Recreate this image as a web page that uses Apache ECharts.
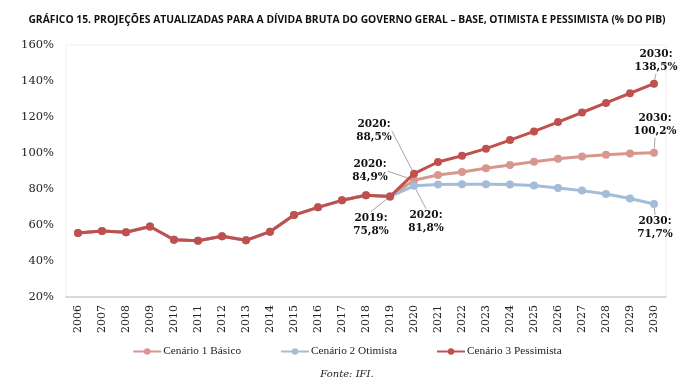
<!DOCTYPE html>
<html><head><meta charset="utf-8">
<script src="https://cdn.jsdelivr.net/npm/echarts@6/dist/echarts.min.js"></script>
<style>html,body{margin:0;padding:0;background:#fff}#c{width:694px;height:387px}</style>
</head><body><div id="c"></div>
<script>
var years = ['2006','2007','2008','2009','2010','2011','2012','2013','2014','2015','2016','2017','2018','2019','2020','2021','2022','2023','2024','2025','2026','2027','2028','2029','2030'];
var historico = [55.5,56.7,56.0,59.2,51.8,51.3,53.8,51.5,56.3,65.5,69.8,73.7,76.5,75.8];
var basico = [84.9,87.8,89.5,91.5,93.3,95.2,96.8,98.1,99.0,99.7,100.2];
var otimista = [81.8,82.5,82.7,82.7,82.5,81.9,80.6,79.1,77.2,74.7,71.7];
var pessimista = [88.5,95.0,98.5,102.4,107.2,112.0,117.2,122.5,127.8,133.2,138.5];
var yTicks = [20,40,60,80,100,120,140,160];
var names = ['Cenário 1 Básico','Cenário 2 Otimista','Cenário 3 Pessimista'];
var colors = ['#D9968F','#A3BCD8','#C0504D'];

// annotations: [seriesIndex, yearLabel, text, position, dx, dy]
var notes = [
  [2,'2030','2030:\n138,5%','top',2,-1],
  [0,'2030','2030:\n100,2%','top',1,-6],
  [1,'2030','2030:\n71,7%','bottom',1,2],
  [2,'2020','2020:\n88,5%','top',-40,-21],
  [0,'2020','2020:\n84,9%','top',-44,13],
  [1,'2020','2020:\n81,8%','bottom',12,14],
  [2,'2019','2019:\n75,8%','bottom',-19,6]
];

function build(si, proj){
  var vals = historico.concat(proj);
  return vals.map(function(v,i){
    var item = {value:v};
    notes.forEach(function(n){
      if(n[0]===si && years[i]===n[1]){
        item.label = {show:true, formatter:n[2], position:n[3]};
        item.labelLine = {show:true};
      }
    });
    return item;
  });
}
function layoutFor(si){
  return function(p){
    var yr = years[p.dataIndex];
    for(var k=0;k<notes.length;k++){
      var n=notes[k];
      if(n[0]===si && n[1]===yr) return {dx:n[4], dy:n[5]};
    }
    return {};
  };
}
var projs=[basico,otimista,pessimista];
var series = projs.map(function(pr,si){
  return {
    name:names[si], type:'line', data:build(si,pr), z:2+si,
    symbol:'circle', symbolSize:8, lineStyle:{width:3,color:colors[si]},
    itemStyle:{color:colors[si]},
    label:{show:false, color:'#111', fontFamily:'DejaVu Serif', fontWeight:'bold', fontSize:10.5, lineHeight:13, align:'center'},
    labelLine:{lineStyle:{color:'#a6a6a6',width:1}},
    labelLayout:layoutFor(si),
    emphasis:{disabled:true}, animation:false
  };
});

var chart = echarts.init(document.getElementById('c'));
chart.setOption({
  animation:false,
  title:[{text:'GRÁFICO 15. PROJEÇÕES ATUALIZADAS PARA A DÍVIDA BRUTA DO GOVERNO GERAL – BASE, OTIMISTA E PESSIMISTA (% DO PIB)',
    left:'center', top:10, textStyle:{fontFamily:'Open Sans', fontWeight:'bold', fontSize:10.3, color:'#111'}},
    {text:'Fonte: IFI.', left:'center', top:364, textStyle:{fontFamily:'DejaVu Serif', fontStyle:'italic', fontWeight:'normal', fontSize:10, color:'#222'}}],
  legend:{data:names, bottom:25, left:'center', itemGap:39, itemWidth:28, itemHeight:8,
    textStyle:{fontFamily:'Liberation Serif', fontSize:11.3, color:'#222', padding:[0,0,0,-3]}},
  grid:{left:66, right:28, top:45, bottom:90, show:true, borderColor:'#eeeeee', borderWidth:1},
  xAxis:{type:'category', data:years, boundaryGap:true,
    axisLine:{lineStyle:{color:'#d9d9d9', width:2}}, axisTick:{show:false},
    axisLabel:{rotate:90, fontFamily:'DejaVu Serif', fontSize:11, color:'#222', margin:8}},
  yAxis:{type:'value', min:20, max:160, interval:20,
    axisLine:{show:false}, axisTick:{show:false}, splitLine:{show:false},
    axisLabel:{formatter:function(v){return v+'%';}, fontFamily:'DejaVu Serif', fontSize:11.5, color:'#222', margin:12}},
  series:series
});
</script></body></html>
